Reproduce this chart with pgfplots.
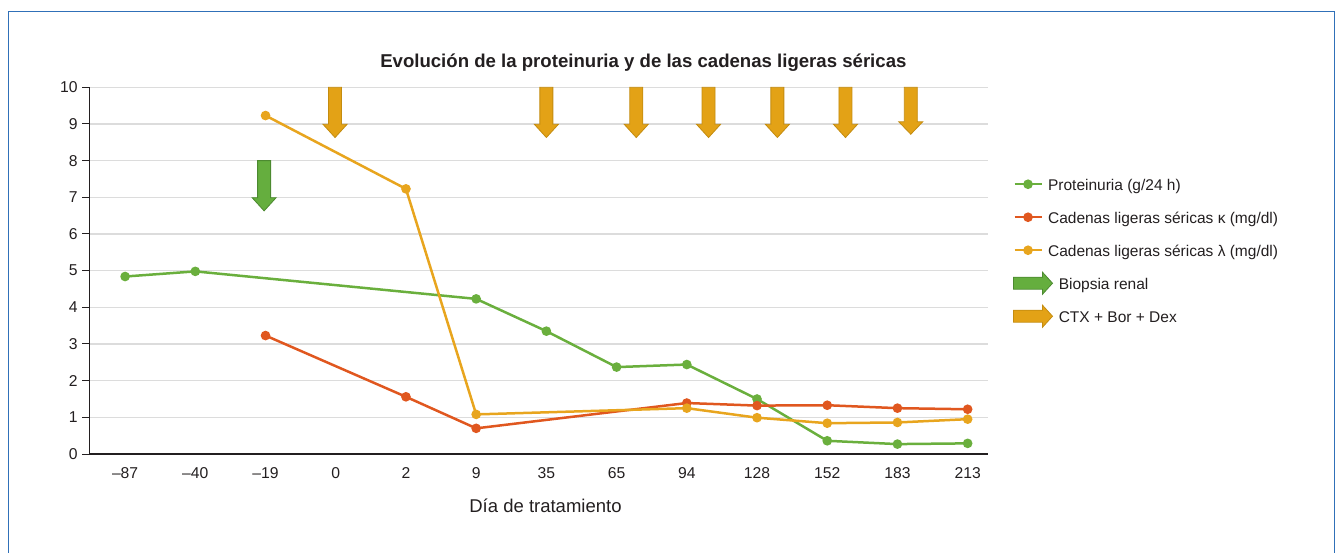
\documentclass[border=0pt]{standalone}
\usepackage{pgfplots}
\pgfplotsset{compat=1.18}
\usepackage{fontspec}
\setmainfont{Liberation Sans}
\definecolor{cgreen}{RGB}{106,175,61}
\definecolor{cred}{RGB}{224,87,31}
\definecolor{cyellow}{RGB}{232,165,30}
\definecolor{arrowO}{RGB}{227,162,22}
\definecolor{arrowOd}{RGB}{196,140,16}
\definecolor{arrowG}{RGB}{101,174,62}
\definecolor{arrowGd}{RGB}{76,138,48}
\definecolor{gridc}{RGB}{220,220,220}
\definecolor{axisc}{RGB}{35,31,32}
\definecolor{textc}{RGB}{35,31,32}
\definecolor{framec}{RGB}{48,112,184}
\newcommand{\downarr}[6]{% x, ytop, ybase, ytip, fill, draw
  \filldraw[fill=#5, draw=#6, line width=0.8pt]
    ([xshift=-6.5pt]axis cs:#1,#2) -- ([xshift=6.5pt]axis cs:#1,#2) --
    ([xshift=6.5pt]axis cs:#1,#3) -- ([xshift=12pt]axis cs:#1,#3) --
    (axis cs:#1,#4) -- ([xshift=-12pt]axis cs:#1,#3) --
    ([xshift=-6.5pt]axis cs:#1,#3) -- cycle;}
\begin{document}
\begin{tikzpicture}[x=1pt,y=1pt]
\path[use as bounding box] (0,0) rectangle (1340,552);
\begin{axis}[
  at={(89.3pt,98pt)}, anchor=south west,
  scale only axis, width=898.7pt, height=366.7pt,
  xmin=-0.51, xmax=12.29, ymin=0, ymax=10,
  xtick={0,1,2,3,4,5,6,7,8,9,10,11,12},
  xticklabels={--87,--40,--19,0,2,9,35,65,94,128,152,183,213},
  ytick={0,1,2,3,4,5,6,7,8,9,10},
  axis lines*=left,
  axis line style={draw=axisc, line width=1.4pt},
  ymajorgrids, grid style={gridc, line width=1.2pt},
  tick align=outside, major tick length=7pt,
  x tick style={draw=none}, y tick style={axisc, line width=1pt},
  /pgf/number format/assume math mode=true,
  tick label style={font=\fontsize{15.7}{18}\selectfont, text=textc},
  xticklabel style={anchor=base, yshift=-17pt},
  yticklabel style={anchor=east, inner sep=0pt, xshift=-4.5pt},
  title={Evolución de la proteinuria y de las cadenas ligeras séricas},
  title style={at={(axis description cs:0.6165,1)}, anchor=base, yshift=14pt,
    font=\bfseries\fontsize{18.6}{22}\selectfont, text=textc},
  xlabel={Día de tratamiento},
  xlabel style={at={(axis description cs:0.5076,0)}, anchor=base, yshift=-58.3pt,
    font=\fontsize{18.5}{22}\selectfont, text=textc},
  clip=false,
  legend style={at={(axis description cs:1.0279,0.758)}, anchor=north west,
    draw=none, fill=none, inner sep=0pt, row sep=17pt, column sep=5.3pt,
    font=\fontsize{15.5}{18}\selectfont, text=textc,
    nodes={text height=14pt, text depth=2pt, inner sep=0pt}},
  legend cell align=left,
  legend image code/.code={%
    \draw[mark repeat=2,mark phase=2,#1] plot coordinates {(0pt,0pt) (13.5pt,0pt) (27pt,0pt)};},
  every axis plot/.append style={line width=2.5pt, mark=*, mark size=3.5pt,
    mark options={solid, line width=0pt}},
]
% treatment arrows
\downarr{2.99}{10}{8.99}{8.63}{arrowO}{arrowOd}
\downarr{6.00}{10}{8.99}{8.63}{arrowO}{arrowOd}
\downarr{7.28}{10}{8.99}{8.63}{arrowO}{arrowOd}
\downarr{8.31}{10}{8.99}{8.63}{arrowO}{arrowOd}
\downarr{9.29}{10}{8.99}{8.63}{arrowO}{arrowOd}
\downarr{10.26}{10}{8.99}{8.63}{arrowO}{arrowOd}
\downarr{11.19}{10}{9.06}{8.72}{arrowO}{arrowOd}
% biopsy arrow
\downarr{1.98}{8}{6.99}{6.63}{arrowG}{arrowGd}

\addplot[color=cgreen, mark options={fill=cgreen, draw=cgreen}] coordinates {
  (0,4.84) (1,4.98) (5,4.23) (6,3.35) (7,2.37) (8,2.44) (9,1.50) (10,0.36) (11,0.27) (12,0.29)};
\addlegendentry{Proteinuria (g/24 h)}
\addplot[color=cred, mark options={fill=cred, draw=cred}] coordinates {
  (2,3.23) (4,1.56) (5,0.70) (8,1.39) (9,1.32) (10,1.33) (11,1.25) (12,1.22)};
\addlegendentry{Cadenas ligeras séricas κ (mg/dl)}
\addplot[color=cyellow, mark options={fill=cyellow, draw=cyellow}] coordinates {
  (2,9.23) (4,7.23) (5,1.08) (8,1.25) (9,0.99) (10,0.84) (11,0.86) (12,0.95)};
\addlegendentry{Cadenas ligeras séricas λ (mg/dl)}
\addlegendimage{legend image code/.code={%
  \filldraw[fill=arrowG, draw=arrowGd, line width=0.8pt, overlay]
    (-1pt,-6pt) -- (28pt,-6pt) -- (28pt,-11pt) -- (38pt,0pt) -- (28pt,11pt) -- (28pt,6pt) -- (-1pt,6pt) -- cycle;
  \path[draw=none, fill=none] (0pt,-3pt) rectangle (27pt,3pt);}}
\addlegendentry{\hspace*{10.7pt}Biopsia renal}
\addlegendimage{legend image code/.code={%
  \filldraw[fill=arrowO, draw=arrowOd, line width=0.8pt, overlay]
    (-1pt,-6pt) -- (28pt,-6pt) -- (28pt,-11pt) -- (38pt,0pt) -- (28pt,11pt) -- (28pt,6pt) -- (-1pt,6pt) -- cycle;
  \path[draw=none, fill=none] (0pt,-3pt) rectangle (27pt,3pt);}}
\addlegendentry{\hspace*{10.7pt}CTX + Bor + Dex}
\end{axis}
\draw[framec, line width=1.5pt] (8.3,-20) -- (8.3,540.3) -- (1334.7,540.3) -- (1334.7,-20);
\end{tikzpicture}
\end{document}
